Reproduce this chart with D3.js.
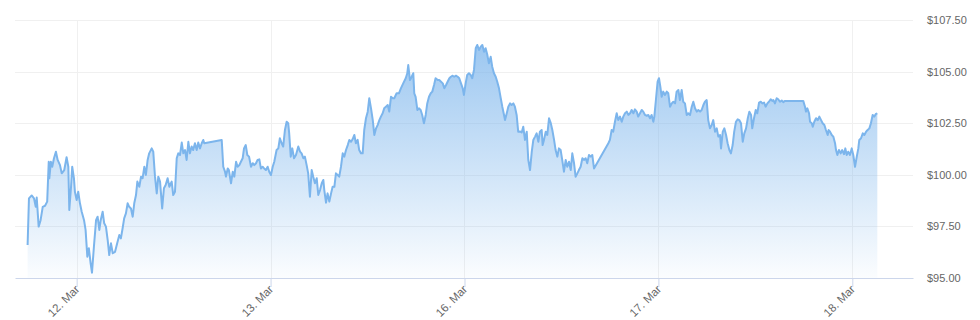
<!DOCTYPE html>
<html lang="en">
<head>
    <meta charset="UTF-8">
    <title>Price chart</title>
    <script src="https://cdn.jsdelivr.net/npm/d3@7/dist/d3.min.js"></script>
    <style>
        body { margin: 0; background: #fff; }
        svg { display: block; font-family: "Liberation Sans", Arial, sans-serif; }
        .grid line { stroke: #f0f0f0; stroke-width: 1px; }
        .axis-label { fill: #666; font-size: 11px; }
        .x-label { fill: #666; font-size: 11.5px; }
        .price-line { fill: none; stroke: #7cb5ec; stroke-width: 2px; stroke-linejoin: round; }
    </style>
</head>
<body>
    <svg id="chart" width="980" height="320"></svg>
    <script>
        // trading days on the x axis (0 = first labelled day)
        const dayTicks = [0, 1, 2, 3, 4];
        const dayLabels = ["12. Mar", "13. Mar", "16. Mar", "17. Mar", "18. Mar"];
        const xExtent = [-0.318, 4.313];

        const priceTicks = [95, 97.5, 100, 102.5, 105, 107.5];

        // position in trading days
        const times = [
            -0.253, -0.246, -0.232, -0.220, -0.211, -0.206, -0.196, -0.186, -0.175, -0.163,
            -0.152, -0.144, -0.141, -0.133, -0.126, -0.117, -0.107, -0.098, -0.086, -0.077,
            -0.064, -0.052, -0.043, -0.038, -0.029, -0.023, -0.014, -0.009, 0.000, 0.008,
            0.017, 0.026, 0.038, 0.046, 0.055, 0.063, 0.072, 0.079, 0.089, 0.100,
            0.108, 0.117, 0.124, 0.134, 0.142, 0.151, 0.160, 0.168, 0.177, 0.186,
            0.198, 0.209, 0.220, 0.228, 0.237, 0.245, 0.254, 0.263, 0.271, 0.280,
            0.289, 0.297, 0.306, 0.313, 0.323, 0.332, 0.340, 0.349, 0.357, 0.366,
            0.374, 0.387, 0.395, 0.404, 0.413, 0.421, 0.430, 0.441, 0.450, 0.459,
            0.469, 0.478, 0.490, 0.498, 0.507, 0.516, 0.524, 0.533, 0.542, 0.550,
            0.559, 0.567, 0.576, 0.584, 0.593, 0.601, 0.610, 0.619, 0.627, 0.636,
            0.645, 0.653, 0.658, 0.748, 0.756, 0.765, 0.770, 0.779, 0.785, 0.796,
            0.805, 0.813, 0.822, 0.830, 0.839, 0.847, 0.856, 0.863, 0.872, 0.880,
            0.889, 0.899, 0.908, 0.916, 0.925, 0.933, 0.942, 0.950, 0.959, 0.967,
            0.976, 0.985, 0.993, 1.002, 1.011, 1.019, 1.031, 1.040, 1.048, 1.057,
            1.065, 1.074, 1.083, 1.091, 1.096, 1.104, 1.112, 1.121, 1.131, 1.143,
            1.152, 1.160, 1.169, 1.177, 1.186, 1.194, 1.203, 1.212, 1.220, 1.229,
            1.238, 1.246, 1.255, 1.264, 1.272, 1.277, 1.286, 1.294, 1.303, 1.312,
            1.320, 1.329, 1.337, 1.346, 1.354, 1.363, 1.372, 1.380, 1.389, 1.398,
            1.406, 1.415, 1.423, 1.432, 1.440, 1.449, 1.457, 1.466, 1.475, 1.483,
            1.492, 1.501, 1.509, 1.518, 1.527, 1.535, 1.544, 1.552, 1.561, 1.569,
            1.578, 1.586, 1.595, 1.604, 1.612, 1.621, 1.630, 1.638, 1.650, 1.662,
            1.672, 1.684, 1.697, 1.705, 1.710, 1.719, 1.728, 1.736, 1.741, 1.748,
            1.757, 1.765, 1.774, 1.782, 1.791, 1.800, 1.808, 1.817, 1.826, 1.834,
            1.843, 1.851, 1.862, 1.870, 1.879, 1.888, 1.896, 1.905, 1.913, 1.922,
            1.930, 1.939, 1.947, 1.956, 1.965, 1.973, 1.982, 1.991, 1.997, 2.006,
            2.014, 2.023, 2.032, 2.040, 2.049, 2.058, 2.066, 2.075, 2.084, 2.092,
            2.101, 2.109, 2.118, 2.126, 2.135, 2.143, 2.152, 2.161, 2.169, 2.178,
            2.187, 2.195, 2.204, 2.209, 2.218, 2.226, 2.235, 2.243, 2.252, 2.260,
            2.269, 2.277, 2.286, 2.295, 2.303, 2.312, 2.321, 2.329, 2.338, 2.347,
            2.355, 2.364, 2.372, 2.381, 2.389, 2.398, 2.403, 2.410, 2.419, 2.427,
            2.436, 2.445, 2.453, 2.462, 2.470, 2.479, 2.487, 2.496, 2.504, 2.513,
            2.522, 2.530, 2.539, 2.548, 2.556, 2.565, 2.573, 2.582, 2.590, 2.599,
            2.608, 2.616, 2.625, 2.633, 2.642, 2.651, 2.659, 2.668, 2.742, 2.750,
            2.759, 2.767, 2.776, 2.785, 2.793, 2.802, 2.811, 2.819, 2.828, 2.837,
            2.845, 2.854, 2.862, 2.871, 2.879, 2.888, 2.896, 2.905, 2.914, 2.922,
            2.931, 2.940, 2.948, 2.957, 2.965, 2.974, 2.979, 2.988, 2.996, 3.003,
            3.010, 3.017, 3.025, 3.034, 3.043, 3.051, 3.060, 3.069, 3.077, 3.086,
            3.094, 3.103, 3.111, 3.120, 3.128, 3.137, 3.146, 3.154, 3.163, 3.172,
            3.180, 3.189, 3.198, 3.206, 3.215, 3.223, 3.232, 3.240, 3.249, 3.257,
            3.266, 3.275, 3.283, 3.292, 3.301, 3.309, 3.318, 3.323, 3.332, 3.340,
            3.349, 3.357, 3.366, 3.374, 3.383, 3.391, 3.400, 3.409, 3.417, 3.426,
            3.435, 3.443, 3.452, 3.461, 3.469, 3.478, 3.484, 3.493, 3.502, 3.510,
            3.519, 3.528, 3.536, 3.545, 3.553, 3.562, 3.570, 3.579, 3.587, 3.593,
            3.601, 3.610, 3.618, 3.627, 3.636, 3.644, 3.653, 3.747, 3.756, 3.761,
            3.768, 3.777, 3.782, 3.791, 3.796, 3.804, 3.813, 3.822, 3.830, 3.839,
            3.847, 3.856, 3.864, 3.873, 3.878, 3.885, 3.894, 3.902, 3.911, 3.916,
            3.923, 3.931, 3.940, 3.948, 3.957, 3.964, 3.971, 3.979, 3.988, 3.997,
            4.005, 4.014, 4.023, 4.031, 4.036, 4.045, 4.054, 4.062, 4.071, 4.079,
            4.088, 4.096, 4.105, 4.113, 4.122, 4.129
        ];

        const prices = [
            96.60, 98.86, 99.00, 98.86, 98.45, 98.90, 97.49, 97.80, 98.45, 98.50,
            98.70, 100.63, 99.83, 100.63, 100.39, 100.80, 101.12, 100.72, 100.47, 100.07,
            100.23, 100.85, 100.39, 98.30, 99.42, 100.39, 99.83, 99.18, 98.78, 99.18,
            98.62, 98.21, 97.80, 97.33, 96.03, 96.44, 95.71, 95.26, 96.52, 97.80,
            97.97, 97.33, 97.80, 98.21, 97.65, 97.49, 96.84, 96.11, 96.68, 96.20,
            96.27, 96.68, 97.08, 96.92, 97.41, 97.89, 98.13, 98.62, 98.45, 98.37,
            97.97, 98.62, 99.02, 99.67, 99.42, 99.91, 99.83, 100.39, 99.99, 100.72,
            101.04, 101.28, 101.12, 99.91, 99.10, 99.91, 99.67, 98.37, 99.35, 99.51,
            99.83, 99.42, 99.67, 99.02, 99.18, 100.80, 101.04, 100.96, 101.56, 101.04,
            101.20, 100.72, 101.60, 101.04, 101.37, 101.20, 101.53, 101.20, 101.56, 101.28,
            101.53, 101.69, 101.53, 101.69, 100.39, 100.15, 99.91, 100.31, 100.23, 99.59,
            100.15, 99.91, 100.63, 100.39, 100.47, 100.63, 100.80, 101.28, 101.44, 100.96,
            100.88, 100.39, 100.56, 100.47, 100.56, 100.72, 100.75, 100.31, 100.39, 100.31,
            100.23, 100.39, 100.15, 99.99, 100.39, 100.63, 101.20, 101.28, 101.77, 101.53,
            101.37, 102.17, 102.57, 102.50, 102.01, 100.88, 101.28, 100.80, 100.96, 101.37,
            101.12, 101.04, 100.80, 100.88, 100.47, 100.07, 98.94, 100.23, 99.91, 99.59,
            99.83, 99.02, 99.26, 99.59, 99.75, 99.26, 98.65, 99.10, 98.70, 99.10,
            99.42, 99.42, 100.07, 99.99, 99.91, 100.39, 101.04, 100.88, 101.20, 101.44,
            101.69, 101.60, 101.72, 101.93, 101.53, 101.69, 101.20, 101.04, 101.04, 102.17,
            102.74, 103.06, 103.71, 103.22, 102.65, 101.93, 102.25, 102.41, 102.65, 102.82,
            102.98, 103.22, 103.30, 103.38, 103.06, 103.78, 103.71, 103.71, 103.95, 103.95,
            104.19, 104.43, 104.68, 104.92, 105.32, 104.59, 104.75, 104.92, 103.95, 103.78,
            103.14, 103.22, 103.14, 102.90, 102.50, 102.90, 103.46, 103.78, 103.95, 104.03,
            104.35, 104.68, 104.59, 104.59, 104.51, 104.43, 104.19, 104.35, 104.51, 104.68,
            104.75, 104.80, 104.75, 104.80, 104.75, 104.68, 104.43, 104.19, 103.87, 104.43,
            104.84, 104.92, 104.84, 104.68, 105.08, 106.13, 106.29, 106.05, 106.21, 106.29,
            105.96, 106.13, 105.80, 105.40, 105.72, 105.24, 104.92, 104.75, 104.51, 104.19,
            103.71, 103.30, 102.90, 102.65, 102.98, 103.30, 103.46, 103.38, 103.46, 103.30,
            102.90, 102.09, 102.10, 102.05, 102.33, 101.69, 102.09, 100.72, 100.23, 101.12,
            101.69, 101.85, 102.01, 101.60, 102.09, 102.17, 101.44, 101.69, 102.09, 101.93,
            102.74, 102.50, 102.17, 101.69, 101.20, 100.88, 101.28, 101.20, 100.72, 100.15,
            100.72, 100.39, 100.63, 100.23, 101.04, 100.56, 99.91, 100.07, 100.23, 100.39,
            100.80, 100.72, 100.80, 100.56, 100.96, 100.88, 100.96, 100.31, 101.53, 101.69,
            102.17, 102.09, 102.57, 102.98, 102.65, 102.82, 102.57, 102.82, 102.98, 103.06,
            102.90, 102.98, 103.14, 102.98, 103.17, 103.06, 102.82, 102.98, 103.14, 103.06,
            102.90, 102.86, 102.90, 102.74, 102.90, 102.57, 102.82, 103.71, 104.51, 104.68,
            104.27, 103.78, 104.03, 103.87, 104.03, 103.95, 103.30, 103.46, 103.54, 103.46,
            104.03, 104.11, 103.62, 104.11, 103.54, 103.46, 102.90, 102.98, 102.90, 103.30,
            103.54, 103.22, 103.06, 103.14, 103.06, 103.14, 103.38, 103.54, 103.62, 102.65,
            102.25, 102.41, 102.65, 102.09, 102.25, 101.85, 101.93, 101.28, 102.09, 102.25,
            101.93, 101.53, 101.20, 101.04, 101.44, 102.09, 102.57, 102.69, 102.65, 102.50,
            101.60, 102.01, 102.25, 102.74, 103.06, 102.90, 102.25, 102.74, 103.14, 102.98,
            103.50, 103.54, 103.46, 103.50, 103.30, 103.46, 103.54, 103.66, 103.58, 103.62,
            103.46, 103.71, 103.66, 103.54, 103.60, 103.52, 103.58, 103.58, 103.30, 103.06,
            103.22, 102.98, 102.57, 102.50, 102.33, 102.57, 102.74, 102.65, 102.82, 102.65,
            102.50, 102.41, 102.17, 101.93, 102.17, 102.09, 101.93, 101.85, 101.53, 101.20,
            100.96, 101.20, 101.04, 101.20, 101.00, 101.28, 100.96, 101.12, 100.96, 101.28,
            100.96, 100.39, 100.88, 101.28, 101.69, 101.77, 102.01, 101.93, 102.09, 102.17,
            102.25, 102.50, 102.90, 102.82, 102.95, 102.98
        ];

        const series = times.map((t, i) => ({ t, v: prices[i] }));

        const margin = { top: 20, right: 67, bottom: 42, left: 15 };
        const width = 980 - margin.left - margin.right;
        const height = 320 - margin.top - margin.bottom;

        const svg = d3.select("#chart");
        const g = svg.append("g")
            .attr("transform", `translate(${margin.left},${margin.top})`);

        const x = d3.scaleLinear().domain(xExtent).range([0, width]);
        const y = d3.scaleLinear().domain([95, 107.5]).range([height, 0]);

        // gradient under the line
        const grad = svg.append("defs").append("linearGradient")
            .attr("id", "areaFill")
            .attr("x1", 0).attr("y1", 0).attr("x2", 0).attr("y2", 1);
        grad.append("stop").attr("offset", "0%").attr("stop-color", "#7cb5ec").attr("stop-opacity", 0.75);
        grad.append("stop").attr("offset", "100%").attr("stop-color", "#7cb5ec").attr("stop-opacity", 0.03);

        // grid
        const grid = g.append("g").attr("class", "grid");
        grid.selectAll(".h")
            .data(priceTicks.slice(1))
            .enter().append("line")
            .attr("x1", 0).attr("x2", width)
            .attr("y1", d => Math.round(y(d)) + 0.5)
            .attr("y2", d => Math.round(y(d)) + 0.5);
        grid.selectAll(".v")
            .data(dayTicks)
            .enter().append("line")
            .attr("y1", 0).attr("y2", height)
            .attr("x1", d => Math.round(x(d)) + 0.5)
            .attr("x2", d => Math.round(x(d)) + 0.5);

        // area + line
        const area = d3.area()
            .x(d => x(d.t))
            .y0(y(95))
            .y1(d => y(d.v));
        const line = d3.line()
            .x(d => x(d.t))
            .y(d => y(d.v));

        g.append("path")
            .datum(series)
            .attr("d", area)
            .attr("fill", "url(#areaFill)");

        g.append("path")
            .datum(series)
            .attr("class", "price-line")
            .attr("d", line);

        // x axis
        const xAxis = g.append("g")
            .attr("transform", `translate(0,${height})`)
            .call(d3.axisBottom(x)
                .tickValues(dayTicks)
                .tickFormat((d, i) => dayLabels[i])
                .tickSize(9)
                .tickSizeOuter(0));
        xAxis.select(".domain").attr("stroke", "#ccd6eb");
        xAxis.selectAll(".tick line").attr("stroke", "#ccd6eb");
        xAxis.selectAll(".tick text")
            .attr("class", "x-label")
            .attr("font-family", null)
            .attr("font-size", null)
            .attr("fill", null)
            .attr("text-anchor", "end")
            .attr("x", 3)
            .attr("y", 12)
            .attr("dy", null)
            .attr("transform", "rotate(-45 3 12)");

        // y axis on the right
        const yAxis = g.append("g")
            .attr("transform", `translate(${width},0)`)
            .call(d3.axisRight(y)
                .tickValues(priceTicks)
                .tickFormat(d => "$" + d3.format(".2f")(d))
                .tickSize(0)
                .tickPadding(14));
        yAxis.select(".domain").remove();
        yAxis.selectAll(".tick text")
            .attr("class", "axis-label")
            .attr("font-family", null)
            .attr("font-size", null)
            .attr("fill", null);
    </script>
</body>
</html>
